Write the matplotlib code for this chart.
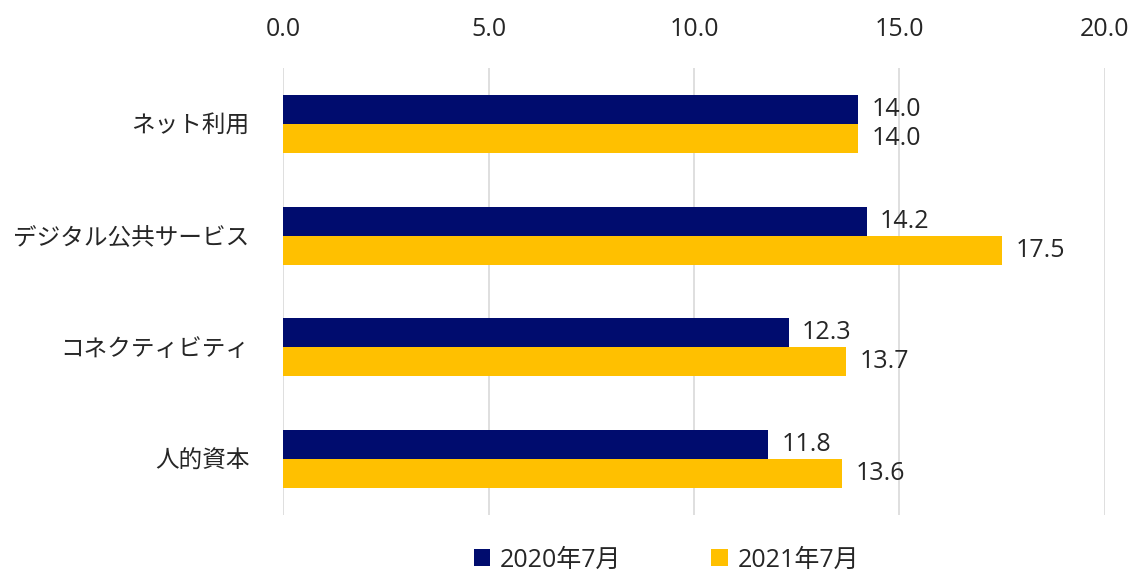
import matplotlib.pyplot as plt
import numpy as np

plt.rcParams['font.family'] = ['Open Sans', 'Noto Sans CJK JP', 'DejaVu Sans']

categories = ["ネット利用", "デジタル公共サービス", "コネクティビティ", "人的資本"]
series_names = ["2020年7月", "2021年7月"]
values_2020 = [14.0, 14.2, 12.3, 11.8]
values_2021 = [14.0, 17.5, 13.7, 13.6]
xticks = [0.0, 5.0, 10.0, 15.0, 20.0]

NAVY = "#000C6E"
GOLD = "#FFC000"
TXT = "#262626"

fig = plt.figure(figsize=(11.39, 5.85), dpi=100)
ax = fig.add_axes([0.2485, 0.1197, 0.7216, 0.7641])

y = np.arange(len(categories))
h = 0.26
b1 = ax.barh(y - h / 2, values_2020, height=h, color=NAVY, label=series_names[0])
b2 = ax.barh(y + h / 2, values_2021, height=h, color=GOLD, label=series_names[1])

for bars, vals in ((b1, values_2020), (b2, values_2021)):
    for rect, v in zip(bars, vals):
        ax.text(v + 0.33, rect.get_y() + rect.get_height() / 2, f"{v:.1f}",
                va="center", ha="left", fontsize=18, color=TXT)

ax.set_xlim(0, 20)
ax.set_ylim(3.5, -0.5)
ax.set_xticks(xticks)
ax.set_xticklabels([f"{t:.1f}" for t in xticks], fontsize=18, color=TXT)
ax.xaxis.tick_top()
ax.set_yticks(y)
ax.set_yticklabels(categories, fontsize=17, color=TXT)
ax.tick_params(axis="y", length=0, pad=24)
ax.tick_params(axis="x", length=0, pad=19)
for s in ax.spines.values():
    s.set_visible(False)
ax.grid(axis="x", color="#d9d9d9", linewidth=1.2)
ax.set_axisbelow(True)

fig.legend(handles=[b1, b2], loc="lower center", bbox_to_anchor=(0.585, -0.017),
           ncol=2, frameon=False, fontsize=18, handlelength=0.65, handleheight=0.65,
           columnspacing=3.6, handletextpad=0.4, labelcolor=TXT)

fig.savefig("out.png", dpi=100)
